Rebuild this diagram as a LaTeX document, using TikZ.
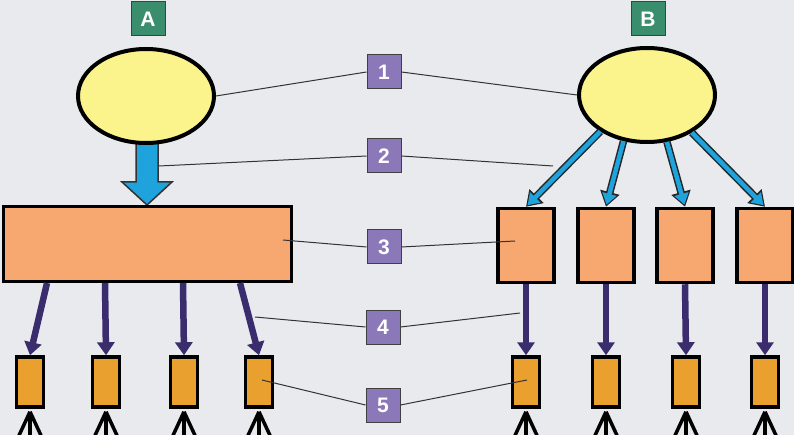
\documentclass[tikz,border=0pt]{standalone}
\usepackage{fontspec}
\setsansfont{Liberation Sans}
\usetikzlibrary{shapes.geometric,arrows.meta}
\definecolor{bgc}{HTML}{E8EAEE}
\definecolor{yel}{HTML}{FBF38C}
\definecolor{sal}{HTML}{F6A870}
\definecolor{org}{HTML}{E9A02E}
\definecolor{blu}{HTML}{1FA3DD}
\definecolor{darkp}{HTML}{3B2D6D}
\definecolor{grn}{HTML}{3A8E6E}
\definecolor{lpur}{HTML}{8B78B8}
\begin{document}
\begin{tikzpicture}[x=1pt,y=-1pt,
 ell/.style={ellipse, draw=black, line width=4pt, fill=yel, minimum width=136pt, minimum height=94pt, inner sep=0},
 bigbox/.style={rectangle, draw=black, line width=3.5pt, fill=sal, inner sep=0},
 smallbox/.style={rectangle, draw=black, line width=3.5pt, fill=org, minimum width=27pt, minimum height=50pt, inner sep=0},
 tag/.style={rectangle, draw=black!75, line width=1pt, minimum size=34pt, inner sep=0, text=white, font=\sffamily\bfseries\fontsize{21}{21}\selectfont},
 grtag/.style={tag, fill=grn},
 nrtag/.style={tag, fill=lpur},
 leader/.style={draw=black!80, line width=1pt},
 darrow/.style={draw=darkp, line width=6.5pt, -{Triangle[width=17pt,length=13pt]}},
 bout/.style={draw=black!85, line width=7.5pt, -{Triangle[width=19pt,length=15pt]}},
 bin/.style={draw=blu, line width=4.5pt, shorten >=2.2pt, -{Triangle[width=14pt,length=11pt]}},
 foot/.style={draw=black, line width=3.5pt},
 fatarrow/.style={fill=blu, draw=black!80, line width=1.5pt, line join=miter}
]
\fill[bgc] (0,0) rectangle (794,435);
\useasboundingbox (0,0) rectangle (794,435);

% fat arrow A (drawn under the ellipse)
\path[fatarrow] (136,130) -- (136,182) -- (122,182) -- (147,205) -- (172,182) -- (158,182) -- (158,130) -- cycle;

% ellipses
\node[ell] (eA) at (146,96) {};
\node[ell] (eB) at (647,95) {};

% tags A/B
\node[grtag] (tA) at (148,19) {A};
\node[grtag] (tB) at (648,19) {B};

% big boxes
\node[bigbox, minimum width=288pt, minimum height=75pt] (bigA) at (147.5,244) {};
\foreach \i/\x in {1/526,2/606,3/685,4/765}{
  \node[bigbox, minimum width=56pt, minimum height=74pt] (rb\i) at (\x,245.5) {};
}

% small boxes
\foreach \i/\x in {1/30,2/106,3/184,4/259}{
  \node[smallbox] (s\i) at (\x,382) {};
}
\foreach \i/\x in {1/526,2/606,3/686,4/765}{
  \node[smallbox] (rs\i) at (\x,382) {};
}

% blue arrows B
\foreach \i/\a in {1/218,2/243,3/293,4/320}{
  \draw[bout] (eB.\a) -- (rb\i.north);
  \draw[bin] (eB.\a) -- (rb\i.north);
}

% purple arrows left
\coordinate (a1) at (47,283);
\coordinate (a2) at (105,283);
\coordinate (a3) at (183,283);
\coordinate (a4) at (240,283);
\foreach \i in {1,2,3,4}{
  \draw[darrow] (a\i) -- (s\i.north);
}
% purple arrows right
\foreach \i in {1,2,3,4}{
  \draw[darrow] (rb\i.south) -- (rs\i.north);
}

% crow's feet
\foreach \n in {s1,s2,s3,s4,rs1,rs2,rs3,rs4}{
  \foreach \dx in {-13,0,13}{
    \draw[foot] ([yshift=-3pt]\n.south) -- ++(\dx,28);
  }
}

% number tags
\node[nrtag] (n1) at (384,72) {1};
\node[nrtag] (n2) at (384,156) {2};
\node[nrtag] (n3) at (384,247) {3};
\node[nrtag] (n4) at (383,327) {4};
\node[nrtag] (n5) at (383,405) {5};

% leader end points
\coordinate (l2a) at (159,166);
\coordinate (l2b) at (553,166);
\coordinate (l3a) at (283,240);
\coordinate (l3b) at (515,241);
\coordinate (l4a) at (255,317);
\coordinate (l4b) at (520,313);
\coordinate (l5a) at (262,380);
\coordinate (l5b) at (527,380);

\draw[leader] (eA.east) -- (n1.west);
\draw[leader] (n1.east) -- (eB.west);
\draw[leader] (l2a) -- (n2.west);
\draw[leader] (n2.east) -- (l2b);
\draw[leader] (l3a) -- (n3.west);
\draw[leader] (n3.east) -- (l3b);
\draw[leader] (l4a) -- (n4.west);
\draw[leader] (n4.east) -- (l4b);
\draw[leader] (l5a) -- (n5.west);
\draw[leader] (n5.east) -- (l5b);
\end{tikzpicture}
\end{document}
